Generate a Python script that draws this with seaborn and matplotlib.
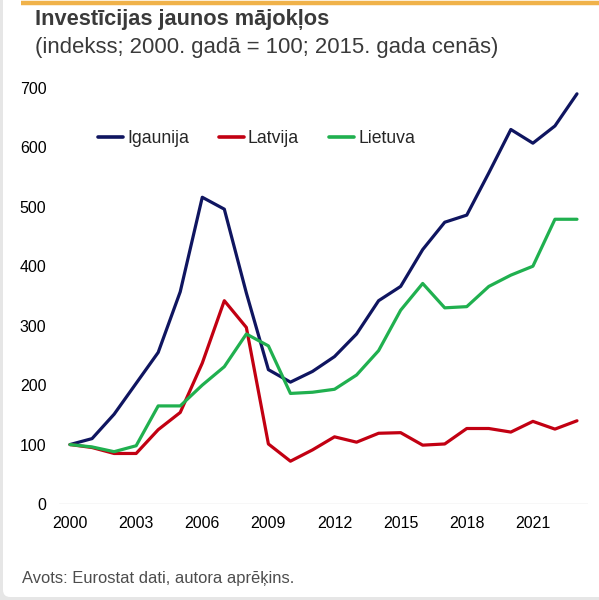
import matplotlib
matplotlib.use("Agg")
import matplotlib.pyplot as plt
from matplotlib.patches import FancyBboxPatch
from matplotlib.lines import Line2D
import numpy as np
import pandas as pd
import seaborn as sns

# ---------------------------------------------------------------------------
# Data
# ---------------------------------------------------------------------------
years = list(range(2000, 2024))

igaunija = [100, 110, 151, 203, 255, 357, 516, 496, 355, 226, 205, 223,
            248, 286, 342, 366, 428, 474, 486, 557, 630, 607, 636, 690]
latvija = [100, 95, 85, 85, 125, 154, 237, 342, 297, 101, 72, 91,
           113, 104, 119, 120, 99, 101, 127, 127, 121, 139, 126, 140]
lietuva = [100, 96, 88, 98, 165, 165, 200, 231, 286, 266, 186, 188,
           193, 217, 258, 326, 371, 330, 332, 366, 385, 400, 479, 479]

series_names = ["Igaunija", "Latvija", "Lietuva"]
colors = ["#0f1560", "#c20012", "#20b04f"]

x_ticks = [2000, 2003, 2006, 2009, 2012, 2015, 2018, 2021]
y_ticks = [0, 100, 200, 300, 400, 500, 600, 700]

title = "Investīcijas jaunos mājokļos"
subtitle = "(indekss; 2000. gadā = 100; 2015. gada cenās)"
source = "Avots: Eurostat dati, autora aprēķins."

df = pd.DataFrame({
    "year": years * 3,
    "value": igaunija + latvija + lietuva,
    "series": sum([[n] * len(years) for n in series_names], []),
})

# ---------------------------------------------------------------------------
# Plot
# ---------------------------------------------------------------------------
sns.set_style("white")
plt.rcParams["font.family"] = ["Liberation Sans", "DejaVu Sans"]

fig = plt.figure(figsize=(5.99, 6.0), dpi=100)
fig.patch.set_facecolor("#e6e6e6")

# card background with thin grey border on left/bottom
card = FancyBboxPatch((3 / 599, 3 / 600), 1.2, 1.2,
                      boxstyle="round,pad=0,rounding_size=0.012",
                      transform=fig.transFigure, facecolor="white",
                      edgecolor="none", zorder=-10)
fig.patches.append(card)

# orange bar on top
fig.add_artist(Line2D([21 / 599, 1.0], [1 - 3 / 600, 1 - 3 / 600],
                      transform=fig.transFigure, color="#f0b24a", lw=3.2,
                      solid_capstyle="butt"))

ax = fig.add_axes([59 / 599, 96 / 600, 529 / 599, 428 / 600])
ax.set_facecolor("none")
ax.set_zorder(5)

sns.lineplot(data=df, x="year", y="value", hue="series",
             palette=dict(zip(series_names, colors)), linewidth=2.3,
             ax=ax, legend=False)

ax.set_xlim(1999.5, 2023.5)
ax.set_ylim(0, 720)
ax.set_xticks(x_ticks)
ax.set_xticklabels([str(t) for t in x_ticks])
ax.set_yticks(y_ticks)
ax.set_xlabel("")
ax.set_ylabel("")
for s in ax.spines.values():
    s.set_visible(False)
ax.axhline(0, color="#d9d9d9", lw=1, zorder=0)
ax.tick_params(axis="both", length=0, labelsize=11.5, colors="black")
ax.tick_params(axis="y", pad=9)
ax.tick_params(axis="x", pad=9)

handles = [Line2D([], [], color=c, lw=2.6) for c in colors]
ax.legend(handles, series_names, ncol=3, frameon=False, fontsize=12.7,
          loc="center left", bbox_to_anchor=(23 / 529, 0.853),
          handlelength=1.42, handletextpad=0.23, columnspacing=1.7)

fig.text(35 / 599, 1 - 20 / 600, title, fontsize=15.7, fontweight="bold",
         color="#3a3a3a", va="center", ha="left")
fig.text(35 / 599, 1 - 47 / 600, subtitle, fontsize=15.9,
         color="#3a3a3a", va="center", ha="left")
fig.text(22 / 599, 1 - 579 / 600, source, fontsize=11.9,
         color="#4d4d4d", va="center", ha="left")

fig.savefig("out.png", dpi=100, facecolor=fig.get_facecolor())
